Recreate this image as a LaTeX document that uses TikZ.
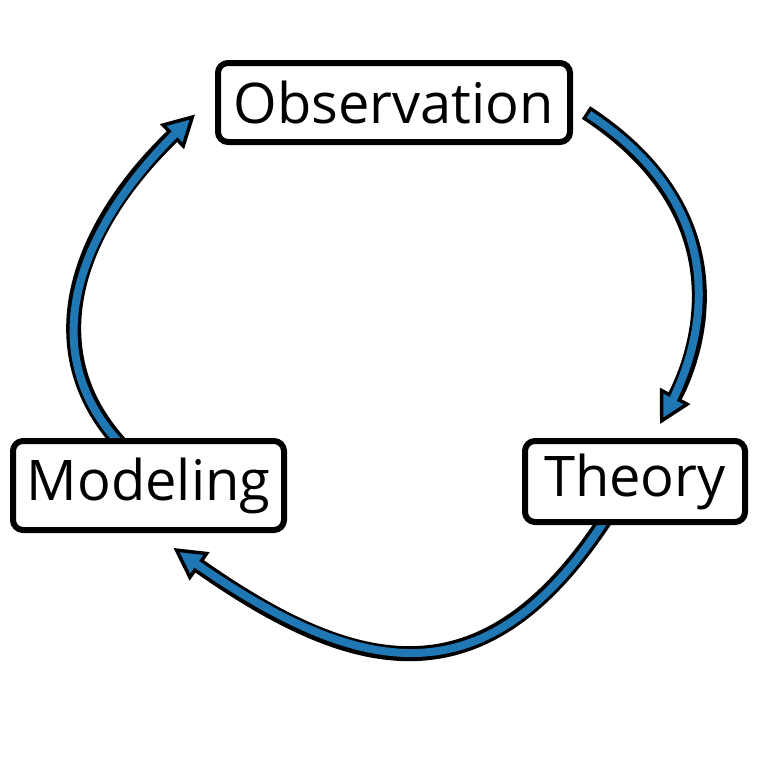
\documentclass[tikz,border=0pt]{standalone}
\usepackage{fontspec}
\setmainfont{Open Sans}
\usepackage{xcolor}
\definecolor{cycleblue}{RGB}{31, 119, 180}
\usetikzlibrary{arrows.meta, positioning, backgrounds}

\begin{document}
\begin{tikzpicture}[
    x=1pt, y=-1pt,
    stage/.style={rectangle, rounded corners=10pt, draw, line width=6pt, fill=white, inner sep=0pt, font=\fontsize{56}{60}\selectfont},
    flowarrow/.style={draw=cycleblue, line width=8pt, shorten <=3.5pt, shorten >=18pt,
        preaction={draw=black, line width=15pt, shorten <=0pt, shorten >=0pt,
            -{Triangle[length=32pt, width=34pt, fill=cycleblue, line width=3.5pt]}}}
]
    % Stages
    \node[stage, minimum width=352pt, minimum height=79pt] (observation) at (394,102.5) {Observation};
    \node[stage, minimum width=220pt, minimum height=81pt] (theory) at (635,481.5) {Theory};
    \node[stage, minimum width=271pt, minimum height=89pt] (modeling) at (148.5,485.5) {Modeling};

    % Arrows behind the boxes
    \begin{scope}[on background layer]
        \path[use as bounding box, fill=white] (0,0) rectangle (757,774);
        \draw[flowarrow] ([shift={(13,10)}]observation.east) .. controls (755,223) and (689,370) .. ([shift={(25,-14)}]theory.north);
        \draw[flowarrow] ([shift={(-30,-5)}]theory.south) .. controls (482,707) and (353,674) .. ([shift={(25,15)}]modeling.south);
        \draw[flowarrow] ([shift={(-28,6)}]modeling.north) .. controls (35,350) and (75,230) .. ([shift={(-20,12)}]observation.west);
    \end{scope}

\end{tikzpicture}
\end{document}
